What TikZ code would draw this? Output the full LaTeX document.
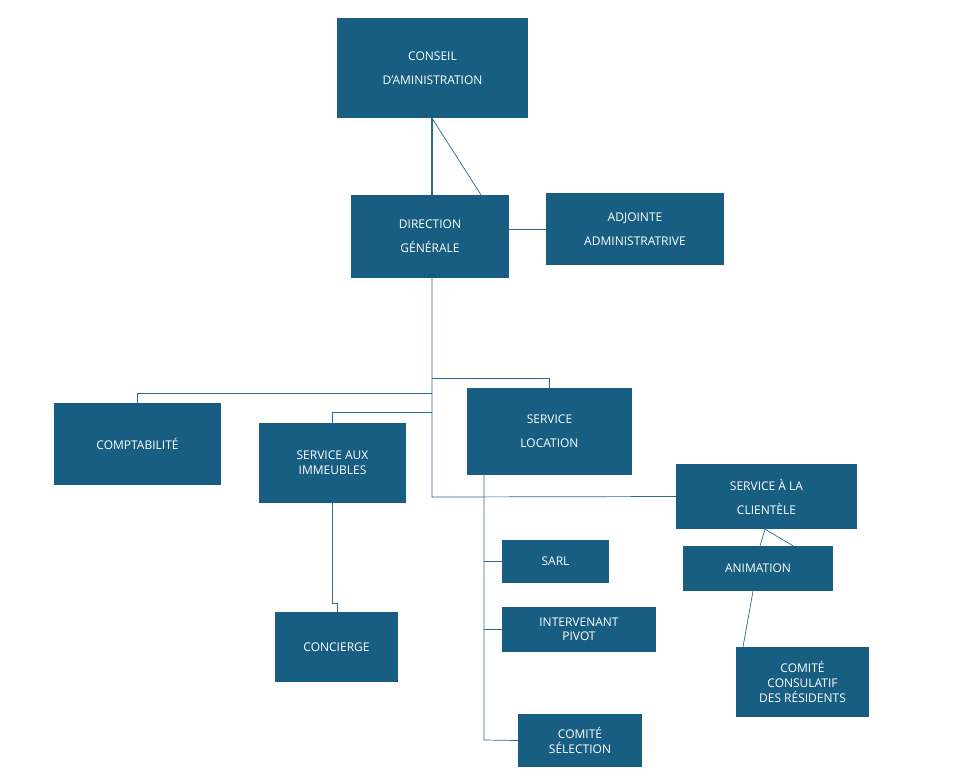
\documentclass[tikz,border=0pt]{standalone}
\usepackage{fontspec}
\setmainfont{Open Sans}
\usepackage{tikz}
\definecolor{boxblue}{HTML}{175E82}
\definecolor{linkblue}{HTML}{2C6A8A}

\begin{document}
\begin{tikzpicture}[
    x = 1pt,
    y = -1pt,
    font = \fontsize{12}{24}\selectfont,
    unit/.style = {
      fill = boxblue,
      text = white,
      align = center,
      inner sep = 0pt
    },
    link/.style = {
      draw = linkblue,
      line width = 0.7pt
    }
    ]
    \useasboundingbox (0,0) rectangle (955,779);
    \node[unit, minimum width = 191, minimum height = 100] (ca) at (432.5,68) {CONSEIL\\D'AMINISTRATION};
    \node[unit, minimum width = 158, minimum height = 83] (dg) at (430,236.5) {DIRECTION\\GÉNÉRALE};
    \node[unit, minimum width = 178, minimum height = 72] (adj) at (635,229) {ADJOINTE\\ADMINISTRATRIVE};
    \node[unit, minimum width = 167, minimum height = 82] (compta) at (137.5,444) {COMPTABILITÉ};
    \node[unit, minimum width = 147, minimum height = 80, font = \fontsize{12}{15}\selectfont] (immeubles) at (332.5,463) {SERVICE AUX\\IMMEUBLES};
    \node[unit, minimum width = 165, minimum height = 87] (location) at (549.5,431.5) {SERVICE\\LOCATION};
    \node[unit, minimum width = 181, minimum height = 65] (clientele) at (766.5,496.5) {SERVICE À LA\\CLIENTÈLE};
    \node[unit, minimum width = 150, minimum height = 45] (animation) at (758,568.5) {ANIMATION};
    \node[unit, minimum width = 107, minimum height = 43] (sarl) at (555.5,561.5) {SARL};
    \node[unit, minimum width = 154, minimum height = 45, font = \fontsize{12}{14}\selectfont] (pivot) at (579,629.5) {INTERVENANT\\PIVOT};
    \node[unit, minimum width = 124, minimum height = 53, font = \fontsize{12}{15}\selectfont] (selection) at (580,740.5) {COMITÉ\\SÉLECTION};
    \node[unit, minimum width = 123, minimum height = 70] (concierge) at (336.5,647) {CONCIERGE};
    \node[unit, minimum width = 133, minimum height = 70, font = \fontsize{12}{15}\selectfont] (consultatif) at (802.5,682) {COMITÉ\\CONSULATIF\\DES RÉSIDENTS};
    % conseil et direction
    \draw[link, line width = 1.2pt] (ca.south -| 432,0) -- (dg.north -| 432,0);
    \draw[link] (ca.south -| 432,0) -- (dg.north -| 481,0);
    \draw[link] (dg.east |- adj) -- (adj.west);
    % tronc principal
    \draw[link] (dg.south -| 432,0) -- (432,497) -- (clientele.west);
    \draw[link] (432,393) -| (compta.north);
    \draw[link] (432,412) -| (immeubles.north);
    \draw[link] (432,378) -| (location.north);
    % service location
    \draw[link] (location.south -| 484,0) -- (484,740) -- (selection.west);
    \draw[link] (484,561.5) -- (sarl.west);
    \draw[link] (484,629.5) -- (pivot.west);
    % immeubles et clientele
    \draw[link] (immeubles.south) -- (332.5,603) -- (337,603) -- (concierge.north -| 337,0);
    \draw[link] (clientele.south -| 765,0) -- (animation.north -| 760,0);
    \draw[link] (clientele.south -| 765,0) -- (animation.north -| 793,0);
    \draw[link] (animation.south -| 753,0) -- (consultatif.north -| 743,0);
  \end{tikzpicture}
\end{document}
